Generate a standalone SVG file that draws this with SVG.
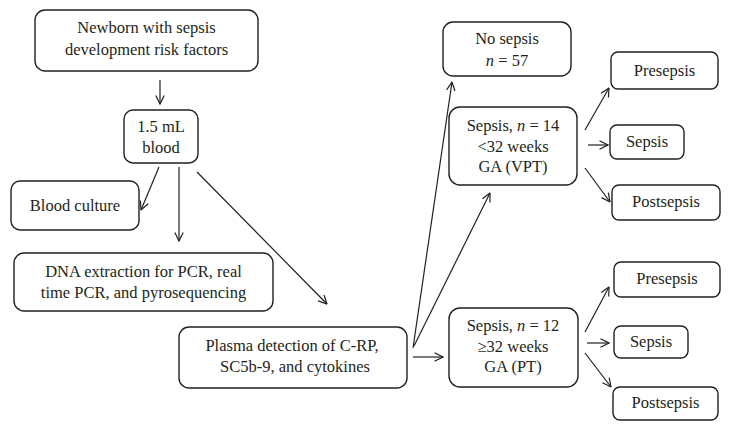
<svg xmlns="http://www.w3.org/2000/svg" width="731" height="430" viewBox="0 0 731 430">
<defs>
<marker id="a" viewBox="0 0 10 10" refX="9.5" refY="5" markerWidth="10" markerHeight="10" orient="auto" markerUnits="userSpaceOnUse">
<path d="M1,0.8 L9.5,5 L1,9.2" fill="none" stroke="#231f20" stroke-width="1.2"/>
</marker>
<style>
.b{fill:#fff;stroke:#231f20;stroke-width:1.4}
.t{font-family:"Liberation Serif","Times New Roman",serif;font-size:16.5px;fill:#231f20;text-anchor:middle}
.c line{stroke:#231f20;stroke-width:1.2;marker-end:url(#a)}
</style>
</defs>
<rect width="731" height="430" fill="#fff"/>
<g id="newborn"><rect class="b" x="35" y="10" width="223" height="61" rx="10"/>
<text class="t" x="146.5" y="33">Newborn with sepsis</text>
<text class="t" x="146.5" y="55">development risk factors</text></g>
<g id="blood"><rect class="b" x="124" y="110" width="74" height="53" rx="9"/>
<text class="t" x="161" y="132">1.5 mL</text>
<text class="t" x="161" y="153">blood</text></g>
<g id="culture"><rect class="b" x="11" y="181" width="128" height="49" rx="9"/>
<text class="t" x="75" y="211">Blood culture</text></g>
<g id="dna"><rect class="b" x="14" y="253" width="259" height="58" rx="10"/>
<text class="t" x="143.5" y="277">DNA extraction for PCR, real</text>
<text class="t" x="143.5" y="298">time PCR, and pyrosequencing</text></g>
<g id="plasma"><rect class="b" x="179" y="327" width="228" height="61" rx="10"/>
<text class="t" x="292" y="351">Plasma detection of C-RP,</text>
<text class="t" x="295" y="372">SC5b-9, and cytokines</text></g>
<g id="nosepsis"><rect class="b" x="443" y="22" width="128" height="54" rx="10"/>
<text class="t" x="507" y="44">No sepsis</text>
<text class="t" x="507" y="66"><tspan font-style="italic">n</tspan> = 57</text></g>
<g id="vpt"><rect class="b" x="449" y="107" width="128" height="78" rx="11"/>
<text class="t" x="513" y="131">Sepsis, <tspan font-style="italic">n</tspan> = 14</text>
<text class="t" x="513" y="152">&lt;32 weeks</text>
<text class="t" x="513" y="172">GA (VPT)</text></g>
<g id="pt"><rect class="b" x="449" y="308" width="129" height="79" rx="11"/>
<text class="t" x="513" y="331">Sepsis, <tspan font-style="italic">n</tspan> = 12</text>
<text class="t" x="513" y="352">≥32 weeks</text>
<text class="t" x="513" y="372">GA (PT)</text></g>
<g id="pre1"><rect class="b" x="611" y="52" width="107" height="37" rx="7"/>
<text class="t" x="664.5" y="76">Presepsis</text></g>
<g id="sep1"><rect class="b" x="610" y="125" width="74" height="34" rx="7"/>
<text class="t" x="647" y="147">Sepsis</text></g>
<g id="post1"><rect class="b" x="612" y="185" width="108" height="35" rx="7"/>
<text class="t" x="666" y="207">Postsepsis</text></g>
<g id="pre2"><rect class="b" x="614" y="262" width="106" height="35" rx="7"/>
<text class="t" x="667" y="284">Presepsis</text></g>
<g id="sep2"><rect class="b" x="614" y="326" width="74" height="32" rx="7"/>
<text class="t" x="651" y="347">Sepsis</text></g>
<g id="post2"><rect class="b" x="613" y="387" width="105" height="33" rx="7"/>
<text class="t" x="665.5" y="408">Postsepsis</text></g>
<g class="c" id="connectors">
<line x1="160" y1="80" x2="160" y2="104"/>
<line x1="159" y1="167" x2="141" y2="210"/>
<line x1="179" y1="167" x2="179" y2="241"/>
<line x1="197" y1="172" x2="327" y2="304"/>
<line x1="413" y1="348" x2="452" y2="82"/>
<line x1="414" y1="346" x2="490" y2="193"/>
<line x1="413" y1="357" x2="443" y2="357"/>
<line x1="585" y1="130" x2="609" y2="88"/>
<line x1="588" y1="145" x2="608" y2="145"/>
<line x1="585" y1="168" x2="610" y2="202"/>
<line x1="585" y1="332" x2="609" y2="287"/>
<line x1="587" y1="343" x2="609" y2="343"/>
<line x1="585" y1="353" x2="611" y2="387"/>
</g>
</svg>
